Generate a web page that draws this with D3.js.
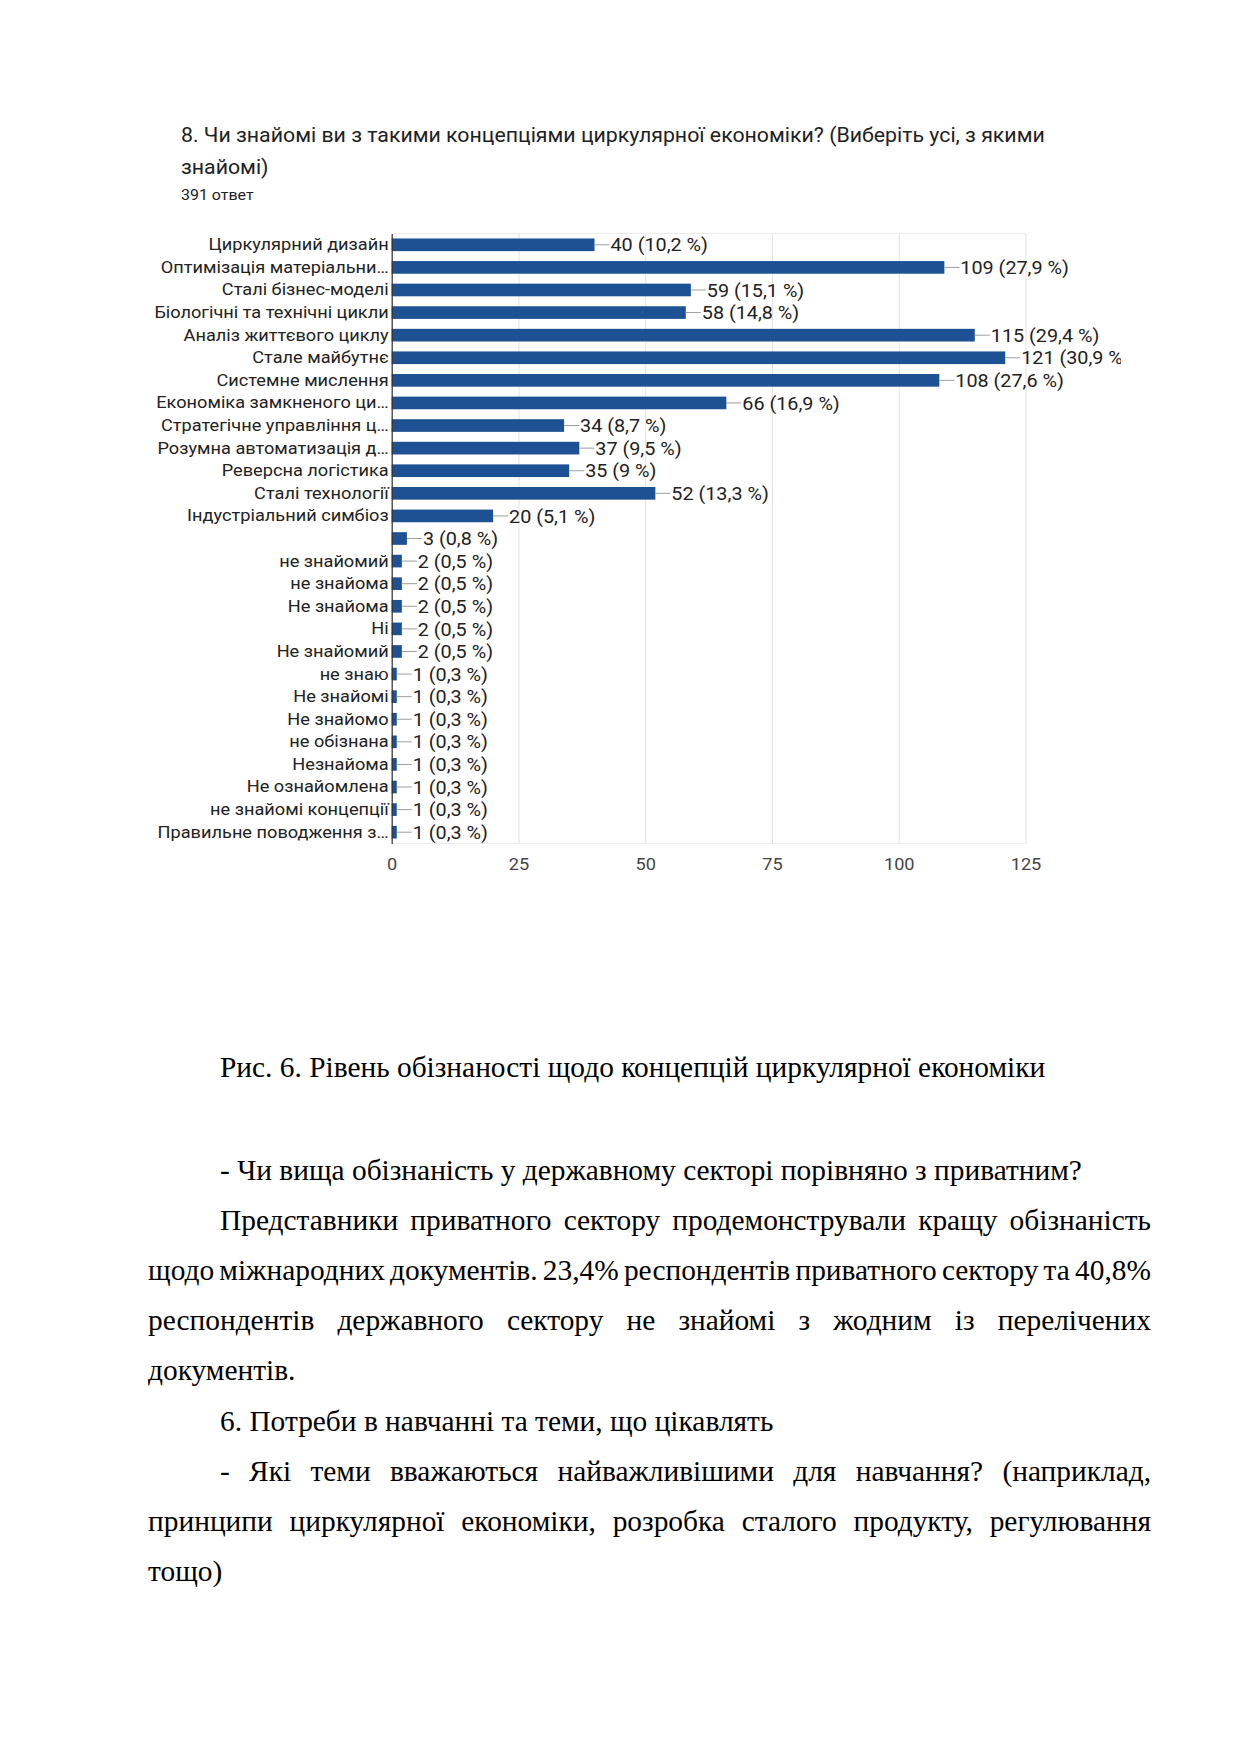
<!DOCTYPE html>
<html><head><meta charset="utf-8">
<script src="https://cdn.jsdelivr.net/npm/d3@7"></script>
<style>body{margin:0;background:#fff}svg{display:block}</style>
</head><body>
<script>
const categories = [
  "Циркулярний дизайн","Оптимізація матеріальни…","Сталі бізнес-моделі","Біологічні та технічні цикли",
  "Аналіз життєвого циклу","Стале майбутнє","Системне мислення","Економіка замкненого ци…",
  "Стратегічне управління ц…","Розумна автоматизація д…","Реверсна логістика","Сталі технології",
  "Індустріальний симбіоз","","не знайомий","не знайома","Не знайома","Ні","Не знайомий",
  "не знаю","Не знайомі","Не знайомо","не обізнана","Незнайома","Не ознайомлена",
  "не знайомі концепції","Правильне поводження з…"
];
const values = [40,109,59,58,115,121,108,66,34,37,35,52,20,3,2,2,2,2,2,1,1,1,1,1,1,1,1];
const tickValues = [0,25,50,75,100,125];
const totalResponses = 391;
const titleLines = ["8. Чи знайомі ви з такими концепціями циркулярної економіки? (Виберіть усі, з якими","знайомі)"];
const subtitle = "391 ответ";
const caption = "Рис. 6. Рівень обізнаності щодо концепцій циркулярної економіки";
const bodyLines = [
  {t:"- Чи вища обізнаність у державному секторі порівняно з приватним?", indent:true, justify:false},
  {t:"Представники приватного сектору продемонстрували кращу обізнаність", indent:true, justify:true},
  {t:"щодо міжнародних документів. 23,4% респондентів приватного сектору та 40,8%", indent:false, justify:true},
  {t:"респондентів державного сектору не знайомі з жодним із перелічених", indent:false, justify:true},
  {t:"документів.", indent:false, justify:false},
  {t:"6. Потреби в навчанні та теми, що цікавлять", indent:true, justify:false},
  {t:"- Які теми вважаються найважливішими для навчання? (наприклад,", indent:true, justify:true},
  {t:"принципи циркулярної економіки, розробка сталого продукту, регулювання", indent:false, justify:true},
  {t:"тощо)", indent:false, justify:false}
];

const W = 1241, H = 1755;
const svg = d3.select("body").append("svg").attr("width", W).attr("height", H);
svg.append("rect").attr("width", W).attr("height", H).attr("fill", "#fff");

const sans = "Roboto, 'Liberation Sans', Arial, sans-serif";
const sx = 1.07; // horizontal stretch of the chart screenshot

// ---- Chart header ----
const tsx = 1.05;
const head = svg.append("g").attr("font-family", sans).attr("fill", "#202124");
head.selectAll("text.title").data(titleLines).join("text")
  .attr("class","title")
  .attr("x", 181 / tsx).attr("y", (d,i) => 142.5 + i*32)
  .attr("transform", `scale(${tsx},1)`)
  .attr("font-size", 20.3)
  .text(d => d);
head.append("text").attr("x", 181 / 1.1).attr("y", 200.5).attr("transform", "scale(1.1,1)")
  .attr("font-size", 14.5).text(subtitle);

// ---- Chart ----
const plotTop = 233.5, plotBottom = 843.5;
const x = d3.scaleLinear().domain([0,125]).range([391.7, 1025.5]);
const y = d3.scaleBand().domain(d3.range(categories.length)).range([plotTop, plotBottom])
  .paddingInner(0.44).paddingOuter(0.22);

svg.append("defs").append("clipPath").attr("id","chartClip")
  .append("rect").attr("x", 0).attr("y", 200).attr("width", 1121).attr("height", 700);
const chart = svg.append("g").attr("clip-path","url(#chartClip)").attr("font-family", sans);

// grid (x axis)
const xAxis = d3.axisBottom(x).tickValues(tickValues).tickSize(-(plotBottom - plotTop)).tickPadding(14);
const gx = chart.append("g").attr("transform", `translate(0,${plotBottom})`).call(xAxis);
gx.select(".domain").remove();
gx.selectAll(".tick line").attr("stroke", "#e3e3e3").attr("stroke-width", 1);
gx.selectAll(".tick text").attr("font-size", 17).attr("fill", "#444").attr("font-family", sans)
  .attr("transform", `scale(${sx},1)`);
chart.append("line").attr("x1", x(0)).attr("x2", x(125)).attr("y1", plotTop).attr("y2", plotTop).attr("stroke","#ececec");
chart.append("line").attr("x1", x(0)).attr("x2", x(125)).attr("y1", plotBottom).attr("y2", plotBottom).attr("stroke","#ececec");

// bars
chart.append("g").selectAll("rect").data(values).join("rect")
  .attr("x", x(0)).attr("y", (d,i) => y(i))
  .attr("width", d => x(d) - x(0)).attr("height", y.bandwidth())
  .attr("fill", "#1d5194");

// y axis
const yAxis = d3.axisLeft(y).tickFormat(i => categories[i]).tickSize(0).tickPadding(3);
const gy = chart.append("g").attr("transform", `translate(${x(0)},0)`).call(yAxis);
gy.select(".domain").attr("stroke", "#333").attr("stroke-width", 1.2);
gy.selectAll(".tick text").attr("font-size", 17).attr("fill", "#222").attr("font-family", sans)
  .attr("x", -3 / sx).attr("transform", `scale(${sx},1)`);

// value annotations
const fmtPct = v => { const p = Math.round(v / totalResponses * 1000) / 10; return (p % 1 === 0 ? String(p) : p.toFixed(1).replace(".", ",")); };
const ann = chart.append("g");
ann.selectAll("line").data(values).join("line")
  .attr("x1", d => x(d)).attr("x2", d => x(d) + 15)
  .attr("y1", (d,i) => y(i) + y.bandwidth()/2).attr("y2", (d,i) => y(i) + y.bandwidth()/2)
  .attr("stroke", "#9e9e9e").attr("stroke-width", 1);
ann.selectAll("text").data(values).join("text")
  .attr("x", d => (x(d) + 16) / sx).attr("y", (d,i) => y(i) + y.bandwidth()/2)
  .attr("transform", `scale(${sx},1)`)
  .attr("dy", "0.36em").attr("font-size", 18.5).attr("fill", "#222")
  .text(d => `${d} (${fmtPct(d)} %)`);

// ---- Document text ----
const serif = "'Liberation Serif', 'Times New Roman', serif";
const doc = svg.append("g").attr("font-family", serif).attr("fill", "#000").attr("font-size", 29.4);
doc.append("text").attr("x", 220).attr("y", 1077).text(caption);

const leftM = 148, indentM = 220, rightM = 1151;
bodyLines.forEach((ln, k) => {
  const x0 = ln.indent ? indentM : leftM;
  const yb = 1179.5 + k * 50.2;
  const g = doc.append("g").attr("transform", `translate(${x0},${yb})`);
  if (!ln.justify) { g.append("text").text(ln.t); return; }
  const words = ln.t.split(" ");
  const widths = words.map(w => { const t = g.append("text").text(w); const wd = t.node().getComputedTextLength(); t.remove(); return wd; });
  const avail = rightM - x0;
  const gap = (avail - d3.sum(widths)) / (words.length - 1);
  let cx = 0;
  words.forEach((w, i) => { g.append("text").attr("x", cx).text(w); cx += widths[i] + gap; });
});
</script>
</body></html>
